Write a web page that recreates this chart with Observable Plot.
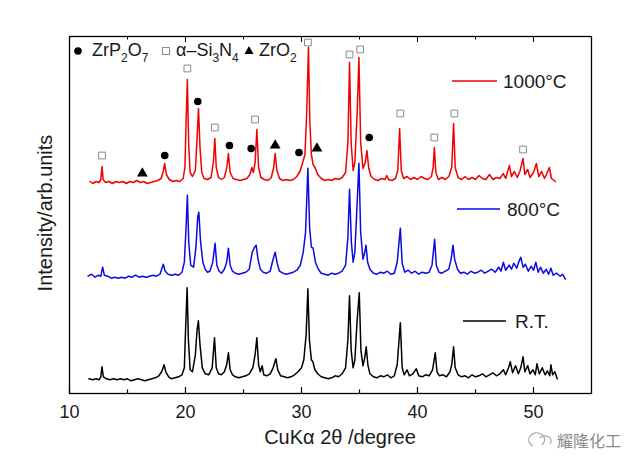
<!DOCTYPE html>
<html><head><meta charset="utf-8">
<script src="https://cdn.jsdelivr.net/npm/d3@7"></script>
<script src="https://cdn.jsdelivr.net/npm/@observablehq/plot@0.6"></script>
<style>body{margin:0;background:#fff} svg{display:block}</style>
</head><body><div id="chart"></div>
<script>
// 2θ (degree), intensity above each trace's own baseline (arb. units)
const trace1000 = [[11.77,1],[12.0,-1],[12.3,1],[12.55,0],[12.7,3],[12.8,16],[12.9,3],[13.1,0],[13.4,1],[13.7,-1],[14.0,1],[14.3,0],[14.6,1],[14.9,-1],[15.2,1],[15.5,0],[15.8,2],[16.1,0],[16.4,1],[16.7,-1],[17.0,0],[17.3,1],[17.6,2],[17.9,4],[18.1,12],[18.21,19],[18.35,8],[18.6,3],[18.9,1],[19.2,2],[19.5,1],[19.8,4],[19.95,15],[20.05,60],[20.16,103],[20.27,40],[20.4,10],[20.6,6],[20.85,12],[21.0,45],[21.12,74],[21.25,35],[21.4,10],[21.6,4],[21.9,3],[22.2,5],[22.4,20],[22.53,44],[22.65,15],[22.85,5],[23.1,3],[23.35,5],[23.55,14],[23.7,29],[23.85,10],[24.1,4],[24.4,3],[24.7,2],[25.0,3],[25.3,4],[25.55,8],[25.72,15],[25.85,10],[26.0,20],[26.15,53],[26.3,15],[26.5,5],[26.8,3],[27.1,2],[27.4,5],[27.6,15],[27.73,29],[27.88,12],[28.1,4],[28.4,2],[28.7,3],[29.0,2],[29.3,3],[29.6,6],[29.9,12],[30.1,20],[30.3,28],[30.45,70],[30.6,135],[30.72,60],[30.85,28],[31.0,18],[31.2,14],[31.4,8],[31.7,4],[32.0,2],[32.3,3],[32.6,2],[32.9,4],[33.2,3],[33.5,5],[33.8,10],[34.0,40],[34.14,120],[34.28,40],[34.45,12],[34.6,20],[34.8,70],[34.95,125],[35.1,40],[35.3,14],[35.5,20],[35.64,32],[35.8,14],[36.0,6],[36.3,3],[36.6,2],[36.9,4],[37.2,3],[37.35,7],[37.5,3],[37.8,2],[38.1,4],[38.3,12],[38.46,54],[38.6,12],[38.8,4],[39.1,6],[39.4,3],[39.7,5],[40.0,3],[40.3,6],[40.6,4],[40.9,3],[41.2,6],[41.35,15],[41.45,35],[41.58,10],[41.8,3],[42.1,5],[42.4,3],[42.7,6],[42.95,15],[43.11,59],[43.25,15],[43.5,5],[43.8,3],[44.1,6],[44.4,3],[44.7,5],[45.0,3],[45.3,7],[45.6,4],[45.9,3],[46.2,8],[46.5,3],[46.8,5],[47.1,4],[47.4,9],[47.6,4],[47.92,17],[48.1,6],[48.35,11],[48.6,5],[48.85,12],[49.1,24],[49.25,8],[49.5,13],[49.7,5],[50.0,10],[50.25,19],[50.45,6],[50.7,11],[50.95,4],[51.15,9],[51.37,15],[51.55,4],[51.89,1]];

const trace800 = [[11.6,1],[11.9,3],[12.2,0],[12.5,2],[12.7,1],[12.86,10],[13.0,2],[13.3,1],[13.6,-1],[13.9,0],[14.2,-1],[14.5,0],[14.8,-1],[15.1,1],[15.4,0],[15.7,2],[16.0,0],[16.3,1],[16.6,0],[16.9,1],[17.2,2],[17.5,1],[17.8,3],[18.0,10],[18.09,13],[18.25,6],[18.5,3],[18.8,2],[19.1,3],[19.4,2],[19.7,5],[19.9,15],[20.05,50],[20.16,82],[20.28,35],[20.45,12],[20.7,10],[20.9,30],[21.05,60],[21.15,65],[21.3,35],[21.5,15],[21.7,8],[21.9,5],[22.1,6],[22.35,15],[22.55,34],[22.7,12],[22.9,6],[23.1,4],[23.35,8],[23.55,15],[23.7,29],[23.85,12],[24.05,6],[24.3,4],[24.6,3],[24.9,4],[25.2,5],[25.5,8],[25.75,25],[25.95,30],[26.09,32],[26.25,18],[26.45,8],[26.7,5],[27.0,4],[27.3,6],[27.55,18],[27.73,25],[27.9,14],[28.1,6],[28.4,4],[28.7,3],[29.0,4],[29.3,5],[29.6,7],[29.9,12],[30.15,25],[30.35,45],[30.55,109],[30.7,50],[30.85,30],[31.0,29],[31.2,15],[31.45,8],[31.7,4],[32.0,3],[32.3,2],[32.6,4],[32.9,3],[33.2,4],[33.5,6],[33.8,12],[34.0,40],[34.14,88],[34.3,35],[34.45,15],[34.6,25],[34.8,75],[34.95,114],[35.1,45],[35.3,18],[35.45,25],[35.56,32],[35.7,15],[35.9,8],[36.2,4],[36.5,3],[36.8,5],[37.1,4],[37.4,6],[37.7,3],[38.0,4],[38.25,15],[38.52,49],[38.68,14],[38.9,5],[39.2,7],[39.5,4],[39.8,6],[40.1,3],[40.4,5],[40.7,4],[41.0,5],[41.25,12],[41.48,38],[41.62,12],[41.85,5],[42.1,4],[42.4,6],[42.7,8],[42.9,18],[43.06,32],[43.2,18],[43.45,8],[43.7,4],[44.0,5],[44.3,3],[44.6,6],[44.9,4],[45.2,5],[45.5,7],[45.8,4],[46.1,6],[46.4,8],[46.7,5],[47.0,10],[47.2,6],[47.4,15],[47.6,7],[47.9,12],[48.1,8],[48.3,14],[48.55,9],[48.75,16],[48.9,20],[49.1,10],[49.3,13],[49.55,6],[49.8,11],[50.0,7],[50.2,15],[50.4,5],[50.6,10],[50.85,4],[51.1,8],[51.3,3],[51.5,9],[51.7,2],[52.0,4],[52.3,1],[52.5,3],[52.75,-2]];

const traceRT = [[11.68,1],[12.0,0],[12.3,1],[12.55,0],[12.7,3],[12.8,13],[12.92,3],[13.2,1],[13.5,0],[13.8,1],[14.1,0],[14.4,1],[14.7,0],[15.0,1],[15.3,-1],[15.6,0],[15.9,1],[16.2,0],[16.5,-1],[16.8,0],[17.1,1],[17.4,2],[17.7,4],[17.95,8],[18.15,15],[18.3,8],[18.55,3],[18.8,1],[19.1,2],[19.4,3],[19.7,5],[19.9,12],[20.02,55],[20.14,92],[20.25,40],[20.4,10],[20.6,8],[20.85,25],[21.0,50],[21.11,59],[21.25,35],[21.45,12],[21.7,6],[22.0,5],[22.3,12],[22.5,42],[22.65,12],[22.85,6],[23.1,5],[23.35,8],[23.55,15],[23.7,27],[23.85,10],[24.05,5],[24.3,3],[24.6,2],[24.9,3],[25.2,4],[25.5,6],[25.8,12],[26.0,25],[26.15,42],[26.3,15],[26.45,8],[26.61,14],[26.75,5],[27.0,4],[27.3,6],[27.55,12],[27.79,21],[27.95,10],[28.2,4],[28.5,3],[28.8,2],[29.1,3],[29.4,5],[29.7,8],[30.0,12],[30.2,20],[30.4,45],[30.55,91],[30.68,40],[30.85,20],[30.98,18],[31.15,10],[31.4,6],[31.7,3],[32.0,2],[32.3,1],[32.6,2],[32.9,4],[33.2,3],[33.5,6],[33.8,12],[34.0,40],[34.14,84],[34.28,30],[34.45,12],[34.6,20],[34.8,60],[34.98,87],[35.12,30],[35.3,14],[35.45,22],[35.58,33],[35.72,15],[35.9,6],[36.2,3],[36.5,2],[36.8,4],[37.1,3],[37.4,5],[37.7,2],[38.0,4],[38.25,15],[38.52,57],[38.68,12],[38.85,5],[39.1,10],[39.3,4],[39.6,6],[39.9,11],[40.1,4],[40.4,3],[40.7,5],[41.0,4],[41.3,10],[41.53,27],[41.68,8],[41.9,4],[42.2,5],[42.5,3],[42.8,8],[42.95,15],[43.11,33],[43.25,12],[43.5,5],[43.8,3],[44.1,4],[44.4,2],[44.7,5],[45.0,3],[45.3,4],[45.6,6],[45.9,3],[46.2,5],[46.5,7],[46.8,4],[47.1,6],[47.4,10],[47.6,5],[47.85,12],[48.0,18],[48.2,7],[48.45,14],[48.7,6],[48.9,12],[49.1,23],[49.25,8],[49.5,14],[49.7,6],[49.95,10],[50.15,5],[50.3,16],[50.5,6],[50.75,12],[51.0,5],[51.2,9],[51.4,4],[51.5,15],[51.65,5],[51.85,8],[52.04,1]];

// vertical stacking offsets of the three patterns
const offset1000 = 211;
const offset800 = 116.3;
const offsetRT = 13.7;

// phase markers [2θ, height above 1000°C baseline]
const markSi3N4 = [[12.8,27],[20.16,114],[22.53,55],[26.0,63],[30.55,140],[34.14,128],[35.06,133],[38.52,69],[41.45,45],[43.18,69],[49.1,33]];
const markZrP2O7 = [[18.21,27],[21.06,81],[23.79,37],[25.66,34],[29.78,30],[35.84,45]];
const markZrO2 = [[16.28,9],[27.73,37],[31.33,34]];

const majorTicks = [10,20,30,40,50];
const minorTicks = [15,25,35,45];
const seriesNames = ["1000°C","800°C","R.T."];
const seriesColors = ["#f00000","#0a0ae6","#000000"];

const FONT = "'Liberation Sans', Arial, Helvetica, sans-serif";
const toRows = (arr, off) => arr.map(([x, v]) => ({x, y: v + off}));

const chart = Plot.plot({
  width: 640, height: 467,
  marginLeft: 69, marginRight: 49, marginTop: 36, marginBottom: 74,
  x: {domain: [10, 55]},
  y: {domain: [0, 357], axis: null},
  style: {fontFamily: FONT, fontSize: "18px", color: "#1a1a1a", background: "white"},
  marks: [
    Plot.line(toRows(traceRT, offsetRT), {x: "x", y: "y", stroke: seriesColors[2], strokeWidth: 1.5}),
    Plot.line(toRows(trace800, offset800), {x: "x", y: "y", stroke: seriesColors[1], strokeWidth: 1.5}),
    Plot.line(toRows(trace1000, offset1000), {x: "x", y: "y", stroke: seriesColors[0], strokeWidth: 1.5}),
    Plot.dot(markSi3N4, {x: d => d[0], y: d => d[1] + offset1000, symbol: "square", r: 3.8, stroke: "#8a8a8a", fill: "white", strokeWidth: 1}),
    Plot.dot(markZrP2O7, {x: d => d[0], y: d => d[1] + offset1000, symbol: "circle", r: 3.8, fill: "black"}),
    Plot.dot(markZrO2, {x: d => d[0], y: d => d[1] + offset1000, symbol: "triangle", r: 4, fill: "black"}),
    Plot.ruleX(majorTicks, {x: d => d, y1: 0, y2: 6, stroke: "black", strokeWidth: 1.2}),
    Plot.ruleX(minorTicks, {x: d => d, y1: 0, y2: 3.5, stroke: "black", strokeWidth: 1.2}),
    Plot.ruleX(majorTicks, {x: d => d, y1: 357, y2: 351, stroke: "black", strokeWidth: 1}),
    Plot.ruleX(minorTicks, {x: d => d, y1: 357, y2: 353.5, stroke: "black", strokeWidth: 1}),
    Plot.axisX(majorTicks, {tickSize: 0, tickPadding: 12, fontSize: 18, label: null}),
    Plot.frame({stroke: "black", strokeWidth: 1.3})
  ]
});
document.getElementById("chart").appendChild(chart);

const svg = d3.select(chart);
const g = svg.append("g").attr("font-family", FONT).attr("fill", "#1a1a1a").attr("text-anchor", "start");

// axis titles
g.append("text").attr("x", 340).attr("y", 437).attr("text-anchor", "middle")
  .attr("dominant-baseline", "central").attr("font-size", 20).text("CuKα 2θ /degree");
g.append("text").attr("transform", "translate(45,213) rotate(-90)").attr("text-anchor", "middle")
  .attr("dominant-baseline", "central").attr("font-size", 20).text("Intensity/arb.units");

// phase legend
function subText(x, parts) {
  const t = g.append("text").attr("x", x).attr("y", 56).attr("font-size", 18);
  let sub = false;
  parts.forEach(([s, isSub]) => {
    const dy = isSub === sub ? 0 : (isSub ? 6 : -6);
    t.append("tspan").attr("dy", dy).attr("font-size", isSub ? 12 : 18).text(s);
    sub = isSub;
  });
}
g.append("circle").attr("cx", 78).attr("cy", 51).attr("r", 3.8).attr("fill", "black");
subText(92, [["ZrP", false], ["2", true], ["O", false], ["7", true]]);
g.append("rect").attr("x", 162.5).attr("y", 47.5).attr("width", 7).attr("height", 7)
  .attr("fill", "white").attr("stroke", "#8a8a8a");
subText(176, [["α–Si", false], ["3", true], ["N", false], ["4", true]]);
g.append("path").attr("d", "M249,46 L253.5,54 L244.5,54 Z").attr("fill", "black");
subText(259, [["ZrO", false], ["2", true]]);

// series legend
const legendPos = [[452, 497, 81, 503], [457, 500, 209, 507], [463, 506, 321, 515]];
seriesNames.forEach((name, i) => {
  const [x1, x2, y, tx] = legendPos[i];
  g.append("line").attr("x1", x1).attr("x2", x2).attr("y1", y).attr("y2", y)
    .attr("stroke", seriesColors[i]).attr("stroke-width", 1.5);
  g.append("text").attr("x", tx).attr("y", y).attr("dominant-baseline", "central")
    .attr("font-size", 19).text(name);
});

// watermark
const wm = g.append("g").attr("stroke", "#a8a8a8").attr("fill", "none").attr("stroke-width", 1.2);
wm.append("path").attr("d", "M533,446 a8,7 0 1,1 9,-1");
wm.append("path").attr("d", "M540,438 a6,5 0 1,1 10,6");
g.append("text").attr("x", 557).attr("y", 440).attr("dominant-baseline", "central")
  .attr("font-size", 16).attr("fill", "#8a8a8a").attr("font-family", "'Noto Sans CJK SC', sans-serif").text("耀隆化工");
</script></body></html>
